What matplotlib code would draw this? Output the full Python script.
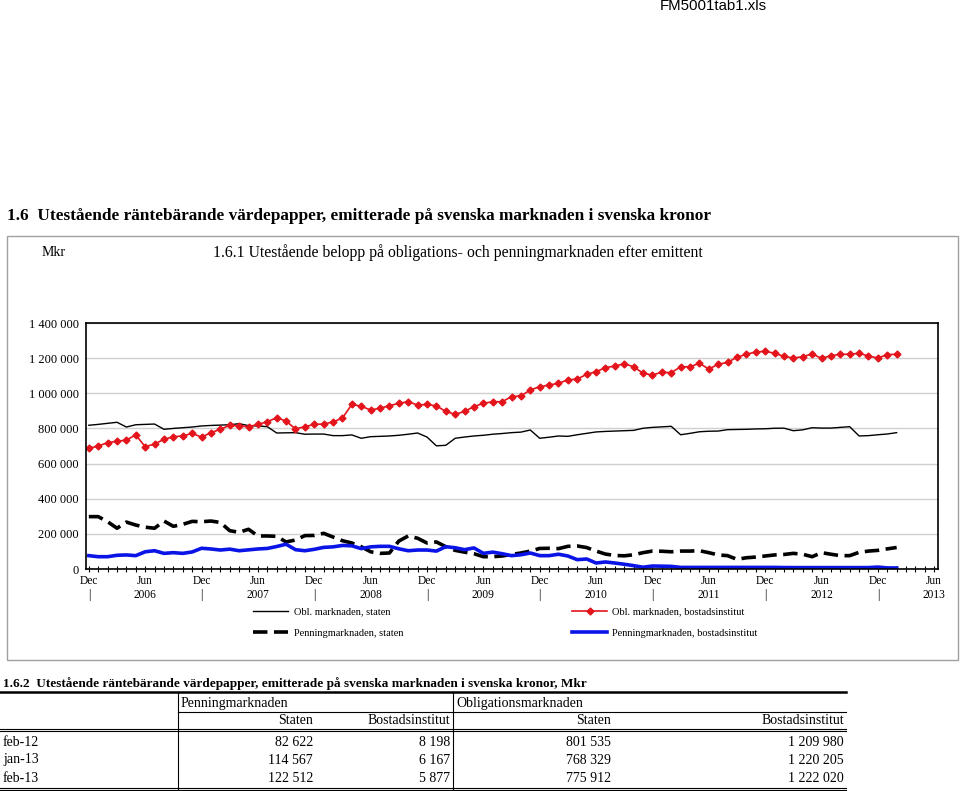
import matplotlib
matplotlib.use("Agg")
import matplotlib.pyplot as plt
from matplotlib.lines import Line2D
from matplotlib.patches import Rectangle

W, H = 960, 791
SERIF = "Liberation Serif"

# month index: 0 = Dec 2005 ... 86 = Feb 2013
months = list(range(87))

obl_staten = [818000, 823000, 829000, 835000, 808000, 821000, 823000, 825000, 795000, 800000,
              804000, 808000, 814000, 817000, 819000, 821000, 827000, 816000, 814000, 810000,
              774000, 775000, 776000, 767000, 768000, 768000, 759000, 759000, 763000, 744000,
              753000, 755000, 757000, 761000, 767000, 774000, 751000, 701000, 704000, 744000,
              751000, 757000, 761000, 767000, 771000, 776000, 779000, 791000, 744000, 750000,
              757000, 755000, 764000, 772000, 780000, 783000, 785000, 787000, 789000, 801000,
              806000, 809000, 812000, 764000, 772000, 781000, 784000, 785000, 793000, 794000,
              795000, 797000, 798000, 801000, 801535, 787000, 792000, 804000, 802000, 802000,
              806000, 810000, 757000, 759000, 764000, 768329, 775912]

obl_bostad = [687000, 700000, 719000, 727000, 734000, 763000, 696000, 711000, 738000, 753000,
              757000, 772000, 750000, 776000, 795000, 818000, 814000, 810000, 823000, 838000,
              861000, 842000, 797000, 810000, 823000, 825000, 837000, 859000, 937000, 926000,
              905000, 915000, 929000, 943000, 952000, 933000, 937000, 928000, 897000, 880000,
              897000, 924000, 943000, 952000, 952000, 981000, 985000, 1019000, 1037000, 1047000,
              1057000, 1076000, 1081000, 1108000, 1123000, 1146000, 1155000, 1168000, 1151000, 1114000,
              1104000, 1120000, 1117000, 1151000, 1151000, 1171000, 1138000, 1165000, 1176000, 1205000,
              1222000, 1235000, 1239000, 1228000, 1209980, 1201000, 1208000, 1224000, 1199000, 1214000,
              1222000, 1222000, 1228000, 1212000, 1201000, 1220205, 1222020]

penn_staten = [298000, 298000, 269000, 232000, 267000, 250000, 238000, 232000, 273000, 243000,
               254000, 271000, 269000, 273000, 265000, 218000, 209000, 226000, 188000, 188000,
               186000, 154000, 165000, 190000, 191000, 203000, 182000, 161000, 148000, 127000,
               98000, 89000, 91000, 159000, 188000, 175000, 148000, 154000, 127000, 106000,
               96000, 87000, 70000, 70000, 74000, 83000, 91000, 102000, 117000, 118000,
               116000, 129000, 131000, 122000, 102000, 85000, 77000, 75000, 81000, 93000,
               102000, 101000, 98000, 102000, 102000, 104000, 93000, 80000, 76000, 55000,
               64000, 68000, 74000, 80000, 82622, 89000, 84000, 70000, 93000, 84000,
               76000, 76000, 95000, 102000, 106000, 114567, 122512]

penn_bostad = [76000, 70000, 70000, 78000, 80000, 76000, 98000, 104000, 89000, 93000,
               89000, 97000, 118000, 114000, 108000, 113000, 104000, 109000, 114000, 117000,
               128000, 141000, 110000, 104000, 112000, 123000, 126000, 134000, 132000, 116000,
               126000, 129000, 129000, 115000, 104000, 108000, 108000, 102000, 127000, 121000,
               110000, 120000, 89000, 96000, 87000, 76000, 81000, 91000, 76000, 76000,
               84000, 74000, 53000, 57000, 34000, 40000, 34000, 27000, 19000, 10000,
               17000, 16000, 15000, 9000, 9000, 9000, 9000, 9000, 9000, 9000,
               9000, 9000, 9000, 9000, 8198, 8000, 8000, 8000, 8000, 8000,
               8000, 8000, 8000, 8000, 11000, 6167, 5877]

y_ticks = [0, 200000, 400000, 600000, 800000, 1000000, 1200000, 1400000]
x_tick_pos = list(range(0, 91, 6))
x_tick_labels = ["Dec\n|" if p % 12 == 0 else "Jun\n%d" % (2006 + p // 12) for p in x_tick_pos]

table_rows = ["feb-12", "jan-13", "feb-13"]
table_idx = [74, 85, 86]


def fx(x):
    return x / W


def fy(y):
    return 1 - y / H


def fmt(v):
    return "{:,}".format(v).replace(",", " ")


fig = plt.figure(figsize=(W / 100, H / 100), dpi=100)

ax = fig.add_axes([fx(86), fy(569), (938 - 86) / W, (569 - 323) / H])
l1, = ax.plot(months, obl_staten, color="black", lw=1.0)
l2, = ax.plot(months, obl_bostad, color="#e3141b", lw=1.2, marker="D", ms=3.5)
l3, = ax.plot(months, penn_staten, color="black", lw=2.6, dashes=(4, 1.8))
l4, = ax.plot(months, penn_bostad, color="#0a14e6", lw=2.6)

ax.set_xlim(-0.3, 90.4)
ax.set_ylim(0, 1400000)
ax.set_yticks(y_ticks)
ax.set_yticklabels([fmt(v) for v in y_ticks], family=SERIF, size=9)
ax.yaxis.grid(True, color="#d0d0d0", lw=1)
ax.set_axisbelow(True)
ax.tick_params(axis="y", length=0, pad=5)

ax.set_xticks(x_tick_pos)
ax.set_xticklabels(x_tick_labels, family=SERIF, size=8.3, linespacing=1.2)
ax.set_xticks(months + [87, 88, 89, 90], minor=True)
ax.tick_params(axis="x", which="both", direction="inout", length=5, width=0.8, pad=2)
for s in ax.spines.values():
    s.set_linewidth(1.2)

# chart frame
fig.add_artist(Rectangle((fx(7), fy(660)), (958 - 7) / W, (660 - 236) / H,
                         transform=fig.transFigure, fill=False, ec="#a0a0a0", lw=1))

fig.legend([l1, l3, l2, l4],
           ["Obl. marknaden, staten", "Penningmarknaden, staten",
            "Obl. marknaden, bostadsinstitut", "Penningmarknaden, bostadsinstitut"],
           ncol=2, loc="upper left", bbox_to_anchor=(fx(253), fy(607)),
           bbox_transform=fig.transFigure, frameon=False,
           prop={"family": SERIF, "size": 7.5}, handlelength=3.4, handletextpad=0.5,
           columnspacing=16.2, labelspacing=1.15, borderpad=0, borderaxespad=0)

# texts
fig.text(fx(660), fy(6), "FM5001tab1.xls", family="Liberation Sans", size=10.8, va="center")
fig.text(fx(7), fy(216), "1.6  Utestående räntebärande värdepapper, emitterade på svenska marknaden i svenska kronor",
         family=SERIF, weight="bold", size=12.45, va="center")
fig.text(fx(42), fy(253), "Mkr", family=SERIF, size=10, va="center")
fig.text(fx(213), fy(253), "1.6.1 Utestående belopp på obligations- och penningmarknaden efter emittent",
         family=SERIF, size=11.3, va="center")
fig.text(fx(3), fy(684), "1.6.2  Utestående räntebärande värdepapper, emitterade på svenska marknaden i svenska kronor, Mkr",
         family=SERIF, weight="bold", size=9.5, va="center")


def hline(y, x0, x1, lw=1.0):
    fig.add_artist(Line2D([fx(x0), fx(x1)], [fy(y), fy(y)], transform=fig.transFigure,
                          color="black", lw=lw))


def vline(x, y0, y1, lw=1.0):
    fig.add_artist(Line2D([fx(x), fx(x)], [fy(y0), fy(y1)], transform=fig.transFigure,
                          color="black", lw=lw))


hline(692, 0, 846, 1.8)
hline(711.5, 178, 846, 0.8)
hline(728.5, 0, 846, 0.8)
hline(731, 0, 846, 0.8)
hline(787.5, 0, 846, 0.8)
hline(790, 0, 846, 0.8)
vline(178, 692, 790, 0.8)
vline(453, 692, 790, 0.8)

fig.text(fx(181), fy(703), "Penningmarknaden", family=SERIF, size=10, va="center")
fig.text(fx(456), fy(703), "Obligationsmarknaden", family=SERIF, size=10, va="center")
col_right = [313, 450, 611, 844]
col_heads = ["Staten", "Bostadsinstitut", "Staten", "Bostadsinstitut"]
for xr, h in zip(col_right, col_heads):
    fig.text(fx(xr), fy(721), h, family=SERIF, size=10, va="center", ha="right")

series_tab = [penn_staten, penn_bostad, obl_staten, obl_bostad]
for r, (name, idx) in enumerate(zip(table_rows, table_idx)):
    y = 742 + 18 * r
    fig.text(fx(3), fy(y), name, family=SERIF, size=10, va="center")
    for xr, s in zip(col_right, series_tab):
        fig.text(fx(xr), fy(y), fmt(s[idx]), family=SERIF, size=10, va="center", ha="right")

fig.savefig("out.png", dpi=100)
